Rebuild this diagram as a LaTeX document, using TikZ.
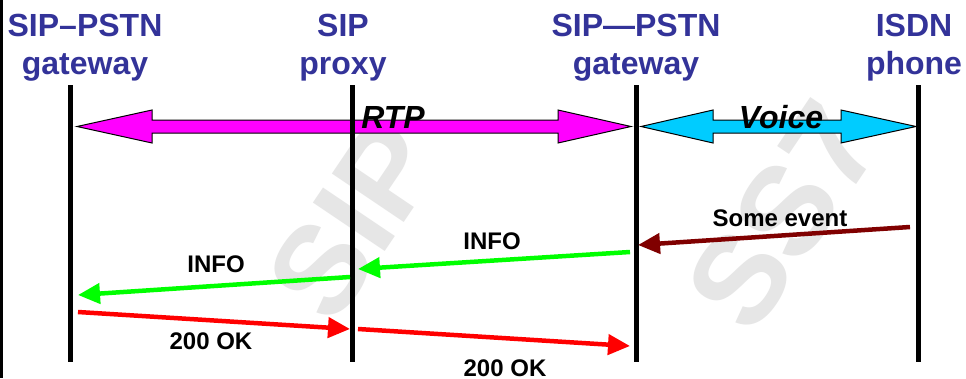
\documentclass[tikz,border=0pt]{standalone}
\usepackage{fontspec}
\setmainfont{Liberation Sans}
\usetikzlibrary{arrows.meta}
\definecolor{hdrblue}{HTML}{333399}
\definecolor{wmgray}{HTML}{E6E6E6}
\definecolor{rtpmag}{HTML}{FF00FF}
\definecolor{voicecyan}{HTML}{00CCFF}
\definecolor{infogreen}{HTML}{00FF00}
\definecolor{okred}{HTML}{FF0000}
\definecolor{evdark}{HTML}{800000}
\begin{document}
\begin{tikzpicture}[x=1pt,y=-1pt,
  hdr/.style={font=\fontsize{32}{38}\selectfont\bfseries, text=hdrblue, anchor=base, inner sep=0pt},
  lbl/.style={font=\fontsize{24}{28}\selectfont\bfseries, anchor=base, inner sep=0pt},
  flow/.style={font=\fontsize{32}{38}\selectfont\bfseries\itshape, anchor=base, inner sep=0pt},
  life/.style={line width=5pt},
  msg/.style={line width=4.5pt, -{Triangle[length=22pt,width=20pt]}},
  blockarrow/.style={draw=black, line width=1pt, line join=miter},
  wm/.style={font=\fontsize{126}{130}\selectfont\bfseries, text=wmgray, rotate=56, inner sep=0pt}]
\useasboundingbox (0,0) rectangle (966,378);
\fill[white] (0,0) rectangle (966,378);
% watermarks
\node[wm] (wmsip) at (354,220) {SIP};
\node[wm] (wmss7) at (783,216) {SS7};
% left border
\coordinate (bordT) at (1.25,0);
\coordinate (bordB) at (1.25,378);
\draw[line width=2.5pt] (bordT) -- (bordB);
% headers
\node[hdr] (h1a) at (85,36) {SIP–PSTN};
\node[hdr] (h1b) at (85,74) {gateway};
\node[hdr] (h2a) at (343,36) {SIP};
\node[hdr] (h2b) at (343,74) {proxy};
\node[hdr] (h3a) at (636,36) {SIP—PSTN};
\node[hdr] (h3b) at (636,74) {gateway};
\node[hdr] (h4a) at (914,36) {ISDN};
\node[hdr] (h4b) at (914,74) {phone};
% block arrows
\coordinate (rtpL) at (77,126.5);
\coordinate (rtpR) at (631,126.5);
\draw[blockarrow, fill=rtpmag] (rtpL) -- ++(75,-16.5) -- ++(0,10) -- ++(406,0) -- ++(0,-10) -- (rtpR)
  -- ++(-73,16.5) -- ++(0,-10) -- ++(-406,0) -- ++(0,10) -- cycle;
\coordinate (voiL) at (641,126.5);
\coordinate (voiR) at (916,126.5);
\draw[blockarrow, fill=voicecyan] (voiL) -- ++(72,-16.5) -- ++(0,10) -- ++(128,0) -- ++(0,-10) -- (voiR)
  -- ++(-75,16.5) -- ++(0,-10) -- ++(-128,0) -- ++(0,10) -- cycle;
% lifelines
\coordinate (l1t) at (70,85); \coordinate (l1b) at (70,362);
\coordinate (l2t) at (352,85); \coordinate (l2b) at (352,362);
\coordinate (l3t) at (636,85); \coordinate (l3b) at (636,362);
\coordinate (l4t) at (918,85); \coordinate (l4b) at (918,362);
\draw[life] (l1t) -- (l1b);
\draw[life] (l2t) -- (l2b);
\draw[life] (l3t) -- (l3b);
\draw[life] (l4t) -- (l4b);
\node[flow] (rtp) at (393,128.5) {RTP};
\node[flow] (voice) at (781,128.5) {Voice};
% messages
\coordinate (evS) at (910,227); \coordinate (evE) at (638,245);
\coordinate (i1S) at (630,252); \coordinate (i1E) at (358,269);
\coordinate (i2S) at (350,277); \coordinate (i2E) at (78,295);
\coordinate (o1S) at (78,312); \coordinate (o1E) at (350,329);
\coordinate (o2S) at (358,329); \coordinate (o2E) at (630,346);
\draw[msg, evdark] (evS) -- (evE);
\draw[msg, infogreen] (i1S) -- (i1E);
\draw[msg, infogreen] (i2S) -- (i2E);
\draw[msg, okred] (o1S) -- (o1E);
\draw[msg, okred] (o2S) -- (o2E);
\node[lbl] (evl) at (780,226) {Some event};
\node[lbl] (i1l) at (492,249) {INFO};
\node[lbl] (i2l) at (216,272) {INFO};
\node[lbl] (o1l) at (211,349) {200 OK};
\node[lbl] (o2l) at (505,376) {200 OK};
\end{tikzpicture}
\end{document}
